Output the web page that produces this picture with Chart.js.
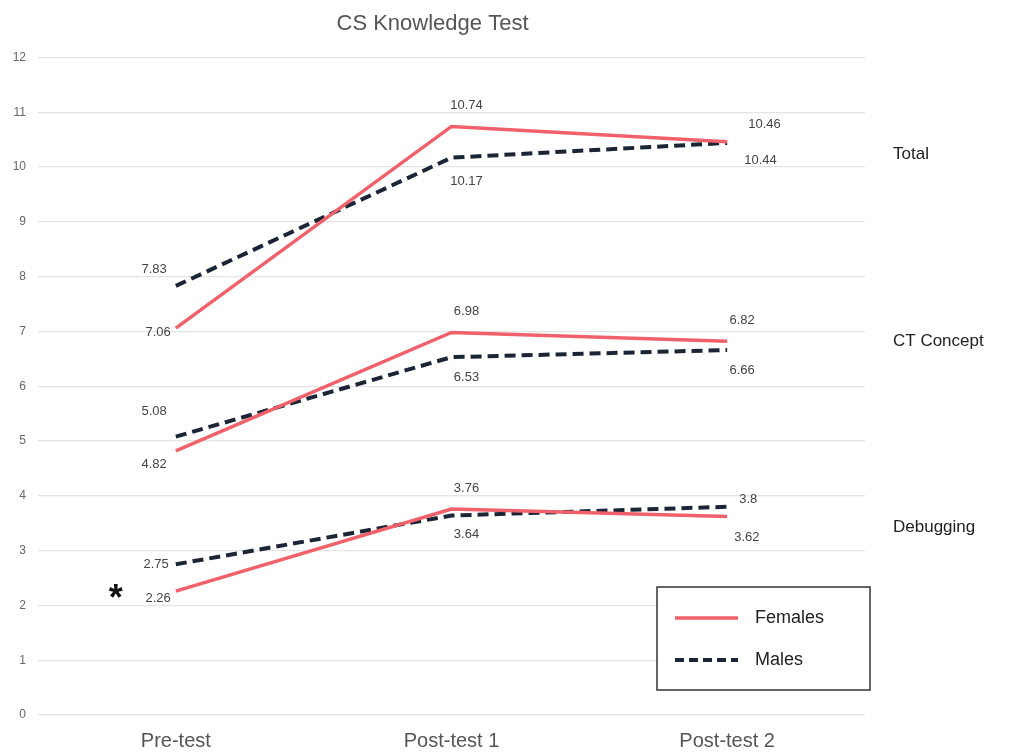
<!DOCTYPE html>
<html>
<head>
<meta charset="utf-8">
<script src="https://cdn.jsdelivr.net/npm/chart.js@4/dist/chart.umd.min.js"></script>
<style>
  html, body { margin: 0; padding: 0; background: #fff; }
  canvas { display: block; }
</style>
</head>
<body>
<canvas id="chart" width="1030" height="756"></canvas>
<script>
// test scores by group and time point
const categories = ['Pre-test', 'Post-test 1', 'Post-test 2'];
const groups = ['Total', 'CT Concept', 'Debugging'];

const femalesTotal = [7.06, 10.74, 10.46];
const malesTotal = [7.83, 10.17, 10.44];
const femalesCT = [4.82, 6.98, 6.82];
const malesCT = [5.08, 6.53, 6.66];
const femalesDebug = [2.26, 3.76, 3.62];
const malesDebug = [2.75, 3.64, 3.8];

const yTicks = [0, 1, 2, 3, 4, 5, 6, 7, 8, 9, 10, 11, 12];

// where the group names sit on the y axis
const groupLabelValues = [10.23, 6.81, 3.42];

const RED = '#f0616b';
const NAVY = '#1b2536';
const FONT = '"Liberation Sans", Arial, Helvetica, sans-serif';

// label offsets per point: [dx, dy, align]
const labelPos = [
  [[-5, 4, 'right'], [15, -21, 'center'], [21, -17, 'left']],
  [[-9, -16, 'right'], [15, 24, 'center'], [17, 18, 'left']],
  [[-9, 14, 'right'], [15, -21, 'center'], [15, -21, 'center']],
  [[-9, -25, 'right'], [15, 20, 'center'], [15, 20, 'center']],
  [[-5, 7, 'right'], [15, -21, 'center'], [7, 21, 'left']],
  [[-7, 0, 'right'], [15, 19, 'center'], [12, -7, 'left']],
];

function series(label, data, female) {
  return {
    label,
    data,
    borderColor: female ? RED : NAVY,
    backgroundColor: female ? RED : NAVY,
    borderWidth: female ? 3.5 : 4,
    borderDash: female ? [] : [11, 6],
    pointRadius: 0,
    tension: 0,
    fill: false,
  };
}

const valueLabels = {
  id: 'valueLabels',
  afterDatasetsDraw(chart) {
    const ctx = chart.ctx;
    ctx.save();
    ctx.font = '13px ' + FONT;
    ctx.fillStyle = '#444';
    ctx.textBaseline = 'middle';
    chart.data.datasets.forEach((ds, i) => {
      const meta = chart.getDatasetMeta(i);
      meta.data.forEach((pt, j) => {
        const [dx, dy, align] = labelPos[i][j];
        ctx.textAlign = align;
        ctx.fillText(String(ds.data[j]), pt.x + dx, pt.y + dy);
      });
    });
    ctx.restore();
  }
};

const extras = {
  id: 'extras',
  afterDraw(chart) {
    const ctx = chart.ctx;
    const area = chart.chartArea;
    const y = chart.scales.y;
    const x = chart.scales.x;
    ctx.save();

    // group names on the right
    ctx.font = '17px ' + FONT;
    ctx.fillStyle = '#222';
    ctx.textAlign = 'left';
    ctx.textBaseline = 'middle';
    groups.forEach((g, i) => {
      ctx.fillText(g, area.right + 28, y.getPixelForValue(groupLabelValues[i]));
    });

    // significance star next to the debugging pre-test
    ctx.font = 'bold 36px ' + FONT;
    ctx.fillStyle = '#111';
    ctx.textAlign = 'center';
    const sy = y.getPixelForValue((femalesDebug[0] + malesDebug[0]) / 2);
    ctx.fillText('*', x.getPixelForValue(0) - 60, sy + 22);

    // legend box
    const bx = area.right - 208, by = area.bottom - 128, bw = 213, bh = 103;
    ctx.lineWidth = 1.5;
    ctx.strokeStyle = '#333';
    ctx.fillStyle = '#fff';
    ctx.fillRect(bx, by, bw, bh);
    ctx.strokeRect(bx, by, bw, bh);
    const items = chart.data.datasets.slice(0, 2);
    items.forEach((ds, i) => {
      const ly = by + 31 + i * 42;
      ctx.beginPath();
      ctx.lineWidth = ds.borderWidth;
      ctx.strokeStyle = ds.borderColor;
      ctx.setLineDash(ds.borderDash.length ? [9, 5] : []);
      ctx.moveTo(bx + 18, ly);
      ctx.lineTo(bx + 81, ly);
      ctx.stroke();
      ctx.setLineDash([]);
      ctx.font = '18px ' + FONT;
      ctx.fillStyle = '#222';
      ctx.textAlign = 'left';
      ctx.fillText(ds.label.split(' ')[0], bx + 98, ly);
    });
    ctx.restore();
  }
};

new Chart(document.getElementById('chart'), {
  type: 'line',
  data: {
    labels: categories,
    datasets: [
      series('Females Total', femalesTotal, true),
      series('Males Total', malesTotal, false),
      series('Females CT', femalesCT, true),
      series('Males CT', malesCT, false),
      series('Females Debugging', femalesDebug, true),
      series('Males Debugging', malesDebug, false),
    ],
  },
  options: {
    responsive: false,
    animation: false,
    layout: { padding: { left: 0, right: 165, top: 0, bottom: 0 } },
    plugins: {
      legend: { display: false },
      tooltip: { enabled: false },
      title: {
        display: true,
        text: 'CS Knowledge Test',
        color: '#555',
        font: { family: FONT, size: 22, weight: 'normal' },
        padding: { top: 11, bottom: 20 },
      },
    },
    scales: {
      x: {
        offset: true,
        grid: { display: false },
        border: { display: false },
        afterFit(scale) { scale.height = 41; },
        ticks: {
          color: '#555',
          font: { family: FONT, size: 20 },
          padding: 6,
        },
      },
      y: {
        min: 0,
        max: 12,
        afterBuildTicks(scale) {
          scale.ticks = yTicks.map(v => ({ value: v }));
        },
        afterFit(scale) { scale.width = 38; },
        grid: { color: '#e4e4e4', lineWidth: 1.2, drawTicks: false },
        border: { display: false },
        ticks: {
          color: '#666',
          font: { family: FONT, size: 12 },
          padding: 12,
        },
      },
    },
  },
  plugins: [valueLabels, extras],
});
</script>
</body>
</html>
